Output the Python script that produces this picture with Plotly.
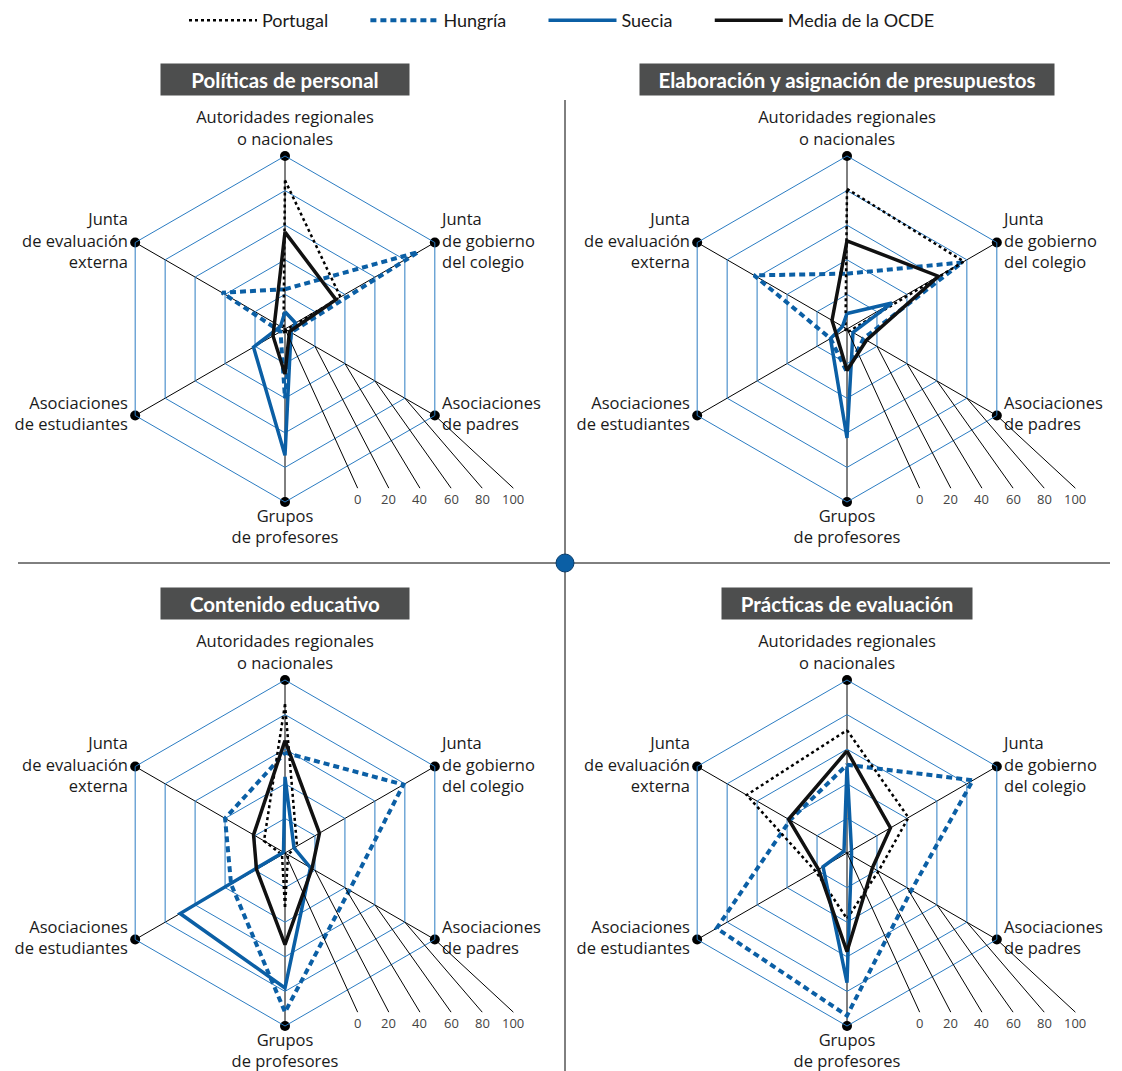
import math
import plotly.graph_objects as go

# Axis categories, clockwise from the top
CATEGORIES = [
    "Autoridades regionales o nacionales",
    "Junta de gobierno del colegio",
    "Asociaciones de padres",
    "Grupos de profesores",
    "Asociaciones de estudiantes",
    "Junta de evaluación externa",
]
AXIS_LABELS = [
    "Autoridades regionales<br>o nacionales",
    "Junta<br>de gobierno<br>del colegio",
    "Asociaciones<br>de padres",
    "Grupos<br>de profesores",
    "Asociaciones<br>de estudiantes",
    "Junta<br>de evaluación<br>externa",
]
LABEL_POSITIONS = ["top center", "middle right", "middle right",
                   "bottom center", "middle left", "middle left"]

PANELS = [
    "Políticas de personal",
    "Elaboración y asignación de presupuestos",
    "Contenido educativo",
    "Prácticas de evaluación",
]

# Percentage of decisions taken at each level (one list per panel)
PORTUGAL = [
    [86, 37, 1, 3, 1, 1],
    [81, 78, 2, 2, 1, 1],
    [86, 8, 2, 32, 2, 14],
    [71, 41, 21, 38, 21, 67],
]
HUNGRIA = [
    [23, 89, 4, 40, 3, 42],
    [32, 77, 11, 25, 11, 62],
    [58, 79, 43, 92, 36, 40],
    [51, 84, 43, 94, 87, 38],
]
SUECIA = [
    [10, 7, 4, 73, 21, 3],
    [9, 30, 4, 63, 11, 3],
    [44, 6, 17, 78, 70, 1],
    [50, 3, 3, 75, 16, 2],
]
MEDIA_OCDE = [
    [56, 34, 3, 26, 8, 7],
    [51, 61, 13, 24, 7, 10],
    [65, 23, 18, 53, 19, 21],
    [59, 29, 17, 57, 19, 39],
]

SCALE_TICKS = [0, 20, 40, 60, 80, 100]

W, H = 1122, 1071
R = 173
CENTERS = [(285, 329), (847, 329), (285, 853), (847, 853)]
TITLE_BOX_WIDTHS = [248, 414, 248, 250]
TITLE_Y = [79.5, 79.5, 603.5, 603.5]

BLUE = "#0b5fa5"
GRID_BLUE = "#2b7cc2"
LABEL_FONT = "Open Sans"
FONT = "Lato"
NBSP = "\u00a0"

# name, values, line style, legend rank, spacing after the legend text
SERIES = [
    ("Hungría", HUNGRIA, dict(color=BLUE, width=4, dash="6px,4px"), 2, 7),
    ("Portugal", PORTUGAL, dict(color="black", width=2.5, dash="dot"), 1, 7),
    ("Suecia", SUECIA, dict(color=BLUE, width=3.5), 3, 7),
    ("Media de la OCDE", MEDIA_OCDE, dict(color="#111111", width=3.5), 4, 0),
]


def domain(cx, cy):
    return dict(x=[(cx - R) / W, (cx + R) / W],
                y=[1 - (cy + R) / H, 1 - (cy - R) / H])


def px(x, y):
    """Pixel position -> paper coordinates."""
    return x / W, 1 - y / H


fig = go.Figure()
layout = {}
shapes = []
annotations = []

for i, (cx, cy) in enumerate(CENTERS):
    main = "polar" if i == 0 else f"polar{i + 1}"

    layout[main] = dict(
        domain=domain(cx, cy),
        gridshape="linear",
        bgcolor="rgba(0,0,0,0)",
        radialaxis=dict(range=[0, 100], dtick=20, showticklabels=False,
                        ticks="", showline=False, gridcolor=GRID_BLUE,
                        gridwidth=1),
        angularaxis=dict(type="category", categoryarray=CATEGORIES,
                         rotation=90, direction="clockwise",
                         showticklabels=False, ticks="", showline=True,
                         linecolor=GRID_BLUE, linewidth=1,
                         gridcolor="black", gridwidth=1),
    )

    # data polygons
    for name, values, line, rank, pad in SERIES:
        v = values[i]
        fig.add_trace(go.Scatterpolar(
            r=v + v[:1], theta=CATEGORIES + CATEGORIES[:1],
            mode="lines", line=line, name=name + NBSP * pad,
            legendrank=rank, showlegend=(i == 0), subplot=main,
            cliponaxis=False, hoverinfo="skip",
        ))

    # axis end dots with their labels
    fig.add_trace(go.Scatterpolar(
        r=[100] * len(CATEGORIES), theta=CATEGORIES, mode="markers+text",
        marker=dict(color="black", size=10), text=AXIS_LABELS,
        textposition=LABEL_POSITIONS,
        textfont=dict(family=LABEL_FONT, size=16.5, color="#1a1a1a"),
        showlegend=False, subplot=main, cliponaxis=False, hoverinfo="skip",
    ))

    # percentage scale fanning out of the "Asociaciones de padres" axis
    cos30, sin30 = math.cos(math.radians(30)), math.sin(math.radians(30))
    for t in SCALE_TICKS:
        x0 = cx + t / 100 * R * cos30
        y0 = cy + t / 100 * R * sin30
        x1 = cx + (0.42 + 0.009 * t) * R
        y1 = cy + 0.92 * R
        a0, b0 = px(x0, y0)
        a1, b1 = px(x1, y1)
        shapes.append(dict(type="line", xref="paper", yref="paper",
                           x0=a0, y0=b0, x1=a1, y1=b1,
                           line=dict(color="black", width=1)))
        annotations.append(dict(x=a1, y=b1, xref="paper", yref="paper",
                                xanchor="center", yanchor="top",
                                showarrow=False, text=str(t),
                                font=dict(family=LABEL_FONT, size=13,
                                          color="#444444")))

    # panel title box
    tx, ty = px(cx, TITLE_Y[i])
    annotations.append(dict(
        x=tx, y=ty, xref="paper", yref="paper",
        xanchor="center", yanchor="middle", showarrow=False,
        text=f"<b>{PANELS[i]}</b>",
        font=dict(family=FONT, size=20.5, color="white"),
        bgcolor="#4d4e4e", width=TITLE_BOX_WIDTHS[i], height=31,
        borderpad=0,
    ))

shapes += [
    dict(type="line", xref="paper", yref="paper",
         x0=565 / W, x1=565 / W, y0=1 - 100 / H, y1=0,
         line=dict(color="black", width=1)),
    dict(type="line", xref="paper", yref="paper",
         x0=18 / W, x1=1110 / W, y0=1 - 563 / H, y1=1 - 563 / H,
         line=dict(color="black", width=1)),
    dict(type="circle", xref="paper", yref="paper",
         x0=556 / W, x1=574 / W, y0=1 - 572 / H, y1=1 - 554 / H,
         fillcolor=BLUE, line=dict(color="#0a3d6b", width=1)),
]

fig.update_layout(
    width=W, height=H,
    margin=dict(l=0, r=0, t=0, b=0),
    paper_bgcolor="white", plot_bgcolor="white",
    font=dict(family=FONT, size=16, color="#1a1a1a"),
    legend=dict(orientation="h", x=184 / W, xanchor="left",
                y=1 - 2 / H, yanchor="top", itemwidth=68,
                font=dict(family=FONT, size=18, color="#1a1a1a"),
                traceorder="normal"),
    annotations=annotations, shapes=shapes,
    **layout,
)

fig.write_html("out.html")
